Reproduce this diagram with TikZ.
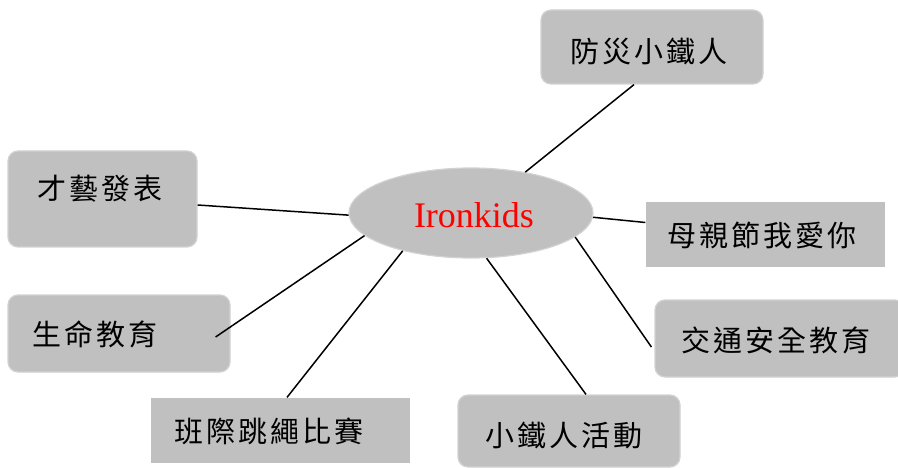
\documentclass[tikz,border=0pt]{standalone}
\usepackage{fontspec}
\setmainfont{Liberation Serif}
\newfontfamily\cjk[LetterSpace=10]{Noto Sans CJK TC}
\usetikzlibrary{shapes.geometric,calc}
\definecolor{boxgray}{RGB}{192,192,192}
\definecolor{edgegray}{RGB}{210,210,210}
\tikzset{
  leaf/.style={fill=boxgray, draw=edgegray, line width=1.2pt, inner sep=0pt},
  roundleaf/.style={leaf, rounded corners=10pt},
  squareleaf/.style={leaf, draw=none},
  leaftext/.style={inner sep=0pt, font=\cjk\fontsize{29}{32}\selectfont, text=black},
  hubnode/.style={ellipse, fill=boxgray, draw=edgegray, line width=1.2pt, inner sep=0pt,
    minimum width=244pt, minimum height=90pt},
  hubtext/.style={inner sep=0pt, text=red, font=\fontsize{36}{40}\selectfont},
  link/.style={draw=black, line width=1.5pt}
}
\begin{document}
\begin{tikzpicture}[x=1pt,y=-1pt]
\useasboundingbox (0,0) rectangle (898,468);
\begin{scope}
\clip (0,0) rectangle (898,468);
\node[roundleaf, minimum width=222pt, minimum height=74pt] (A) at (652,47) {};
\node[roundleaf, minimum width=189pt, minimum height=96pt] (B) at (102.5,199) {};
\node[squareleaf, minimum width=239pt, minimum height=65pt] (C) at (765.5,234.5) {};
\node[roundleaf, minimum width=222pt, minimum height=77pt] (D) at (119,333.5) {};
\node[roundleaf, minimum width=250pt, minimum height=77pt] (E) at (780,338.5) {};
\node[squareleaf, minimum width=259pt, minimum height=65pt] (F) at (280.5,430.5) {};
\node[roundleaf, minimum width=222pt, minimum height=72pt] (G) at (569,431) {};
\node[hubnode] (hub) at (471,213) {};
\node[hubtext] (hubt) at (474,215) {Ironkids};
\node[leaftext] (At) at (649,51) {防災小鐵人};
\node[leaftext] (Bt) at (100,189) {才藝發表};
\node[leaftext] (Ct) at (762,235) {母親節我愛你};
\node[leaftext] (Dt) at (95,334) {生命教育};
\node[leaftext] (Et) at (776,340) {交通安全教育};
\node[leaftext] (Ft) at (269,431) {班際跳繩比賽};
\node[leaftext] (Gt) at (564,435) {小鐵人活動};
\draw[link] (hub.37) -- ([xshift=-18pt]A.south);
\draw[link] (hub.181) -- ([yshift=-6pt]B.east);
\draw[link] (hub.-2) -- ([yshift=12pt]C.west);
\draw[link] (hub.192) -- ($(D.east)+(-15,3.5)$);
\draw[link] (hub.-13) -- ($(E.west)+(-3,8.5)$);
\draw[link] (hub.209.5) -- ([xshift=6.5pt]F.north);
\draw[link] (hub.-71) -- ([xshift=17pt]G.north);
\end{scope}
\end{tikzpicture}
\end{document}
